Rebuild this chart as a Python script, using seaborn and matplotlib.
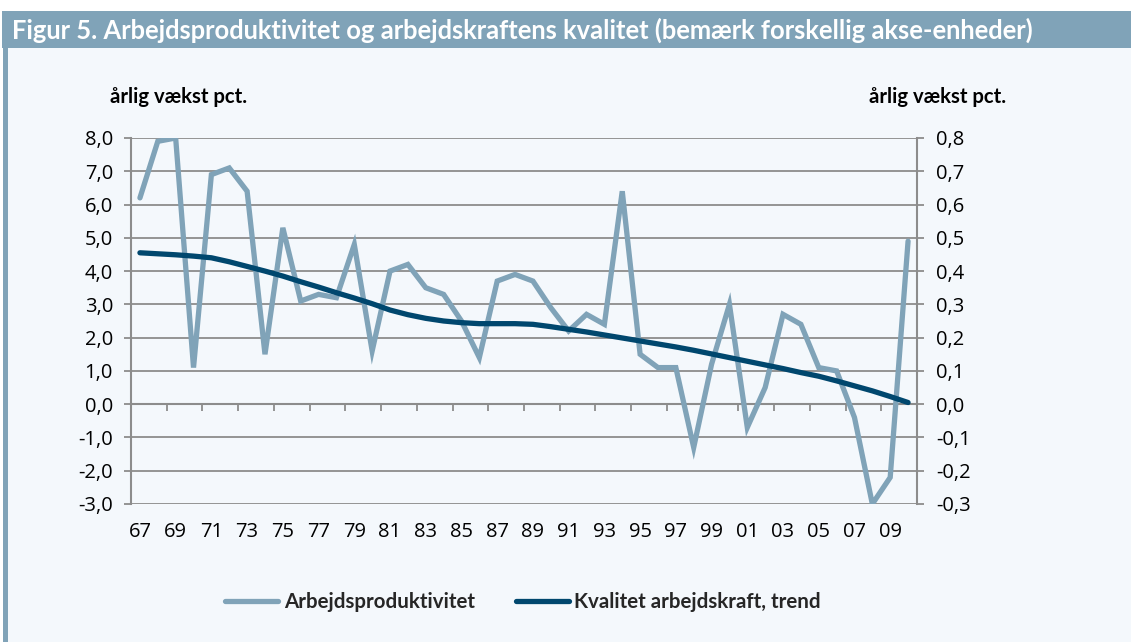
import numpy as np
import pandas as pd
import matplotlib
matplotlib.use("Agg")
import matplotlib.pyplot as plt
from matplotlib.patches import Rectangle
from matplotlib.ticker import FixedLocator, FuncFormatter
import seaborn as sns

years = list(range(1967, 2011))
tick_labels = [f"{y % 100:02d}" for y in years]
productivity = [6.2, 7.9, 8.0, 1.1, 6.9, 7.1, 6.4, 1.5, 5.3, 3.1,
                3.3, 3.2, 4.8, 1.6, 4.0, 4.2, 3.5, 3.3, 2.5, 1.4,
                3.7, 3.9, 3.7, 2.9, 2.2, 2.7, 2.4, 6.4, 1.5, 1.1,
                1.1, -1.3, 1.2, 3.0, -0.7, 0.5, 2.7, 2.4, 1.1, 1.0,
                -0.4, -3.0, -2.2, 4.9]
quality_trend = [0.455, 0.452, 0.449, 0.445, 0.440, 0.428, 0.414, 0.400, 0.385, 0.368,
                 0.352, 0.335, 0.319, 0.302, 0.283, 0.269, 0.258, 0.250, 0.245, 0.242,
                 0.242, 0.242, 0.240, 0.233, 0.225, 0.217, 0.208, 0.199, 0.190, 0.181,
                 0.172, 0.162, 0.151, 0.140, 0.129, 0.118, 0.107, 0.095, 0.084, 0.070,
                 0.055, 0.040, 0.023, 0.005]

name_prod = "Arbejdsproduktivitet"
name_qual = "Kvalitet arbejdskraft, trend"
title = "Figur 5. Arbejdsproduktivitet og arbejdskraftens kvalitet (bemærk forskellig akse-enheder)"
unit_label = "årlig vækst pct."

df = pd.DataFrame({"idx": np.arange(len(years)), "prod": productivity, "qual": quality_trend})

sns.set_theme(style="white")
plt.rcParams["font.family"] = ["Open Sans", "DejaVu Sans"]

BG = "#F4F8FC"
BAR = "#80A3B8"
LIGHT = "#80A3B8"
DARK = "#00476E"
GRID = "#8C8C8C"

W, H = 1131, 642
fig = plt.figure(figsize=(W / 100, H / 100), dpi=100)
fig.patch.set_facecolor("white")

def fx(px):
    return px / W

def fy(py):
    return 1 - py / H

# panel background
fig.patches.append(Rectangle((fx(3), 0), fx(W - 3), fy(48), transform=fig.transFigure,
                             facecolor=BG, edgecolor="none", zorder=-3))
# title bar
fig.patches.append(Rectangle((fx(2), fy(48)), fx(W - 2), fy(11) - fy(48), transform=fig.transFigure,
                             facecolor=BAR, edgecolor="none", zorder=-2))
# left border
fig.patches.append(Rectangle((fx(3), 0), fx(4.5), fy(48), transform=fig.transFigure,
                             facecolor=BAR, edgecolor="none", zorder=-2))
fig.text(fx(12), fy(30), title, color="white", fontsize=18.4, fontweight="bold",
         family=["Lato", "DejaVu Sans"], va="center", ha="left", zorder=2)

L, R, T, B = 131, 917, 138, 504
ax = fig.add_axes([fx(L), fy(B), fx(R - L), fy(T) - fy(B)])
ax.set_facecolor(BG)
ax2 = ax.twinx()

sns.lineplot(data=df, x="idx", y="prod", ax=ax, color=LIGHT, linewidth=3.8,
             label=name_prod, legend=False, solid_capstyle="round", solid_joinstyle="miter", zorder=3)
sns.lineplot(data=df, x="idx", y="qual", ax=ax2, color=DARK, linewidth=3.8,
             label=name_qual, legend=False, solid_capstyle="round", zorder=4)

n = len(years)
ax.set_xlim(-0.5, n - 0.5)
ax.set_ylim(-3, 8)
ax2.set_ylim(-0.3, 0.8)
ax.set_yticks(np.arange(-3, 9, 1))
ax2.set_yticks(np.arange(-0.3, 0.81, 0.1))
ax.yaxis.set_major_formatter(FuncFormatter(lambda v, p: f"{v:.1f}".replace(".", ",")))
ax2.yaxis.set_major_formatter(FuncFormatter(lambda v, p: f"{v:.1f}".replace(".", ",").replace("-0,0", "0,0")))

ax.grid(axis="y", color=GRID, linewidth=1.3, zorder=1)
ax.set_axisbelow(True)
ax2.grid(False)
ax.set_xlabel("")
ax.set_ylabel("")
ax2.set_ylabel("")

for a in (ax, ax2):
    for s in ("top", "bottom"):
        a.spines[s].set_visible(False)
ax.spines["left"].set_color(GRID)
ax.spines["left"].set_linewidth(1.5)
ax.spines["right"].set_visible(False)
ax2.spines["left"].set_visible(False)
ax2.spines["right"].set_color(GRID)
ax2.spines["right"].set_linewidth(1.5)

ax.tick_params(axis="y", which="major", left=True, length=5, width=1.3, color=GRID, pad=8,
               labelsize=14.5, labelcolor="black")
ax2.tick_params(axis="y", which="major", right=True, length=5, width=1.3, color=GRID, pad=9,
                labelsize=14.5, labelcolor="black")

ax.set_xticks(np.arange(0, n, 2))
ax.set_xticklabels(tick_labels[::2])
ax.tick_params(axis="x", which="major", bottom=True, length=0, pad=13, labelsize=14.5, labelcolor="black")

# zero-line category axis with boundary tick marks
zero_frac = (0 - (-3)) / 11
sec = ax.secondary_xaxis(zero_frac)
sec.xaxis.set_major_locator(FixedLocator(np.arange(1.5, n, 2)))
sec.tick_params(axis="x", length=5, width=1.3, color=GRID, labelbottom=False, labeltop=False, direction="out")
sec.set_xticklabels([])
sec.spines["bottom"].set_color(GRID)
sec.spines["bottom"].set_linewidth(1.5)
sec.spines["top"].set_visible(False)

fig.text(fx(110), fy(97), unit_label, fontsize=14.6, fontweight="bold",
         family=["Lato", "DejaVu Sans"], ha="left", va="center", color="black")
fig.text(fx(1006), fy(97), unit_label, fontsize=14.6, fontweight="bold",
         family=["Lato", "DejaVu Sans"], ha="right", va="center", color="black")

h1, l1 = ax.get_legend_handles_labels()
h2, l2 = ax2.get_legend_handles_labels()
leg = fig.legend(h1 + h2, l1 + l2, loc="center", bbox_to_anchor=(fx(523), fy(602)), ncol=2,
                 frameon=False, handlelength=2.6, handletextpad=0.25, columnspacing=2.0,
                 prop={"family": ["Lato", "DejaVu Sans"], "weight": "bold", "size": 14.8})

fig.savefig("out.png", dpi=100, facecolor=fig.get_facecolor())
